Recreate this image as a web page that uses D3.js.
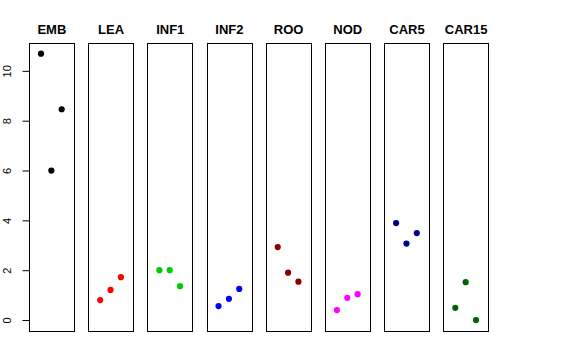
<!DOCTYPE html>
<html><head><meta charset="utf-8">
<script src="https://cdn.jsdelivr.net/npm/d3@7"></script>
<style>body{margin:0;background:#fff}svg{display:block}</style>
</head><body>
<script>
const categories = ["EMB","LEA","INF1","INF2","ROO","NOD","CAR5","CAR15"];
const colors = ["#000000","#FF0000","#00CD00","#0000FF","#8B0000","#FF00FF","#00008B","#006400"];
const values = [
  [10.69, 6.00, 8.46],
  [0.80, 1.21, 1.72],
  [2.00, 2.00, 1.36],
  [0.56, 0.85, 1.25],
  [2.93, 1.90, 1.54],
  [0.40, 0.89, 1.04],
  [3.89, 3.07, 3.49],
  [0.49, 1.52, 0.00]
];
const yTicks = [0,2,4,6,8,10];

const W=576,H=360;
const svg=d3.select("body").append("svg").attr("width",W).attr("height",H);
const band=d3.scaleBand().domain(categories).range([29,488]).paddingInner(0.245).paddingOuter(0);
const allV=values.flat();
const vmin=d3.min(allV), vmax=d3.max(allV), r=vmax-vmin;
const y=d3.scaleLinear().domain([vmin-0.04*r, vmax+0.04*r]).range([330.7,43]);

categories.forEach((c,i)=>{
  const x0=band(c), bw=band.bandwidth();
  const x=d3.scaleLinear().domain([-0.16,4.16]).range([x0,x0+bw]);
  const g=svg.append("g");
  g.selectAll("circle").data(values[i]).enter().append("circle")
    .attr("cx",(d,j)=>x(j+1)).attr("cy",d=>y(d)).attr("r",3.1).attr("fill",colors[i]);
  g.append("rect").attr("x",Math.round(x0)+0.5).attr("y",43.5)
    .attr("width",Math.round(bw)).attr("height",Math.round(330.7-43))
    .attr("fill","none").attr("stroke","#000").attr("stroke-width",1);
  g.append("text").attr("x",x0+bw/2+0.5).attr("y",34).attr("text-anchor","middle")
    .attr("font-family","Liberation Sans, Arial, sans-serif").attr("font-weight","bold")
    .attr("font-size",13).text(c);
});

const ax=svg.append("g").attr("transform","translate(29.5,0)");
ax.call(d3.axisLeft(y).tickValues(yTicks).tickSize(7).tickPadding(0).tickFormat(d3.format("d")));
ax.select(".domain").attr("d",`M0,${y(0)}V${y(10)}`).attr("stroke","#000");
ax.selectAll(".tick line").attr("stroke","#000");
ax.selectAll(".tick text").attr("x",null).attr("dy","0")
  .attr("transform","translate(-18.5,0) rotate(-90)").attr("text-anchor","middle")
  .attr("font-family","Liberation Sans, Arial, sans-serif").attr("font-size",11).attr("fill","#000");
</script>
</body></html>
